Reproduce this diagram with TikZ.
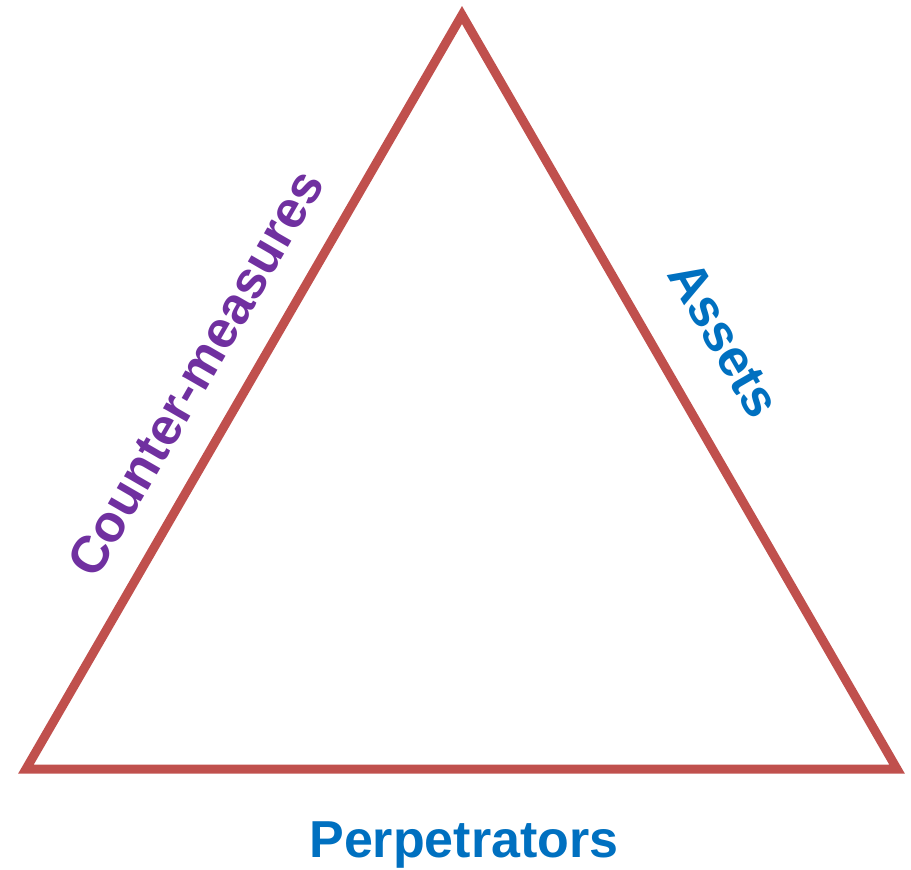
\documentclass[tikz,border=0pt]{standalone}
\usepackage{fontspec}
\setmainfont{Liberation Sans}
\definecolor{edgered}{HTML}{C0504D}
\definecolor{labpurple}{HTML}{7030A0}
\definecolor{labblue}{HTML}{0070C0}
\begin{document}
\begin{tikzpicture}[x=1pt,y=-1pt,
  side/.style={draw=edgered,line width=9pt,line join=miter},
  lab/.style={font=\fontsize{52}{58}\selectfont\bfseries,inner sep=0pt,anchor=base}]
\useasboundingbox (0,0) rectangle (911,870);
\coordinate (top) at (462,15);
\coordinate (bl) at (26,769);
\coordinate (br) at (897,769);
\draw[side] (top) -- (bl) -- (br) -- cycle;
\node[lab,text=labblue] (perp) at (464,857) {Perpetrators};
\node[lab,text=labpurple,rotate=60] (cm) at (211,382) {Counter-measures};
\node[lab,text=labblue,rotate=-60] (as) at (709,348) {Assets};
\end{tikzpicture}
\end{document}
